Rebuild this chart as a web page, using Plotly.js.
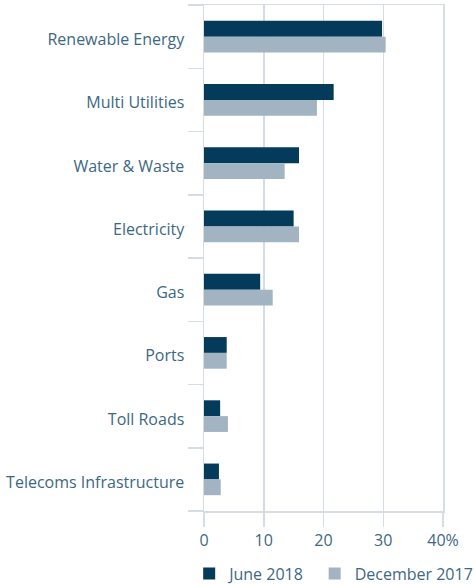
<!DOCTYPE html>
<html>
<head>
<meta charset="utf-8">
<script src="https://cdn.plot.ly/plotly-3.0.1.min.js"></script>
<style>html,body{margin:0;padding:0;background:#fff;}#chart{width:476px;height:584px;}</style>
</head>
<body>
<div id="chart"></div>
<script>
const categories = ["Renewable Energy","Multi Utilities","Water & Waste","Electricity","Gas","Ports","Toll Roads","Telecoms Infrastructure"];
const june2018 = [29.8, 21.7, 15.9, 15.0, 9.4, 3.8, 2.7, 2.5];
const dec2017 = [30.4, 18.9, 13.5, 15.9, 11.5, 3.8, 4.0, 2.8];
const xTickVals = [0, 10, 20, 30, 40];
const xTickText = ["0", "10", "20", "30", "40%"];

const textColor = '#3d6882';
const gridColor = '#d5dce4';

// category boundaries (for the separator ticks on the category axis)
const boundaries = categories.map((c, i) => i - 0.5).concat([categories.length - 0.5]);

const traces = [
  {type:'bar', orientation:'h', name:'June 2018', y:categories, x:june2018,
   marker:{color:'#043a5a'}, hoverinfo:'x+y', legend:'legend'},
  {type:'bar', orientation:'h', name:'December 2017', y:categories, x:dec2017,
   marker:{color:'#a2b3c2'}, hoverinfo:'x+y', legend:'legend2'},
  {type:'scatter', x:[], y:[], yaxis:'y2', showlegend:false, hoverinfo:'skip'}
];

const legendCommon = {orientation:'h', xanchor:'left', yanchor:'top', y:-0.09,
  font:{size:16, color:textColor}, itemclick:false, bgcolor:'rgba(0,0,0,0)'};

const layout = {
  width:476, height:584,
  margin:{l:204, r:32.5, t:5, b:73, autoexpand:false},
  paper_bgcolor:'#fff', plot_bgcolor:'#fff',
  font:{family:'"Open Sans", sans-serif', size:16, color:textColor},
  barmode:'group', bargap:0.5, bargroupgap:0,
  showlegend:true,
  legend:Object.assign({}, legendCommon, {x:-0.062}),
  legend2:Object.assign({}, legendCommon, {x:0.463}),
  xaxis:{range:[0,40], tickvals:xTickVals, ticktext:xTickText,
         showgrid:true, gridcolor:gridColor, gridwidth:1.5,
         zeroline:false, showline:true, linecolor:gridColor, linewidth:1.5, mirror:true,
         ticks:'outside', ticklen:14, tickcolor:gridColor, tickwidth:1.5,
         tickfont:{size:16, color:textColor}, fixedrange:true},
  yaxis:{type:'category', autorange:'reversed',
         ticks:'outside', ticklen:15, tickcolor:'rgba(0,0,0,0)', tickwidth:1.5,
         ticklabelshift:-3,
         showgrid:false, zeroline:false, showline:true, linecolor:gridColor, linewidth:1.5, mirror:true,
         tickfont:{size:16, color:textColor}, fixedrange:true},
  yaxis2:{overlaying:'y', side:'left', anchor:'x', type:'linear',
          range:[categories.length - 0.5, -0.5], tickvals:boundaries,
          showticklabels:false, ticks:'outside', ticklen:15, tickcolor:gridColor, tickwidth:1.5,
          showgrid:false, zeroline:false, showline:false, fixedrange:true}
};

Plotly.newPlot('chart', traces, layout, {displayModeBar:false, staticPlot:true});
</script>
</body>
</html>
